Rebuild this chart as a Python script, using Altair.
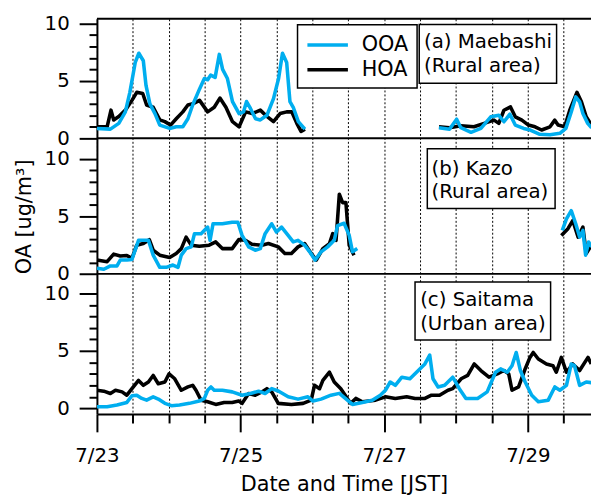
import altair as alt
import pandas as pd

FONT = "DejaVu Sans"

# ---- data: hours since 7/23 00:00 JST and OA concentration (ug/m3) ----
# (a) Maebashi
A_OOA_T1 = [0,4.5,7.3,9.5,11,12.8,14,15.5,16.4,17.7,19.4,21,24.3,26.5,28.7,30.4,32,34.3,35.9,37,38,39.5,40.9,42,43.6,45.3,47.5,49,50,51.3,53,54.6,56.8,59,60.7,62,63.4,64.5,65.6,67.3,69.5]
A_OOA_V1 = [0.86,0.8,1.3,2.3,4.0,6.6,7.4,6.75,4.6,3.0,2.15,1.15,0.86,1.0,1.0,1.7,2.9,4.3,5.2,5.1,5.5,5.3,7.3,6.0,5.2,3.2,2.15,2.3,3.2,2.6,1.7,1.6,2.0,3.45,5.2,7.4,6.6,3.2,2.7,1.45,0.8]
A_HOA_T1 = [0,3.4,4.7,5.6,7.3,9.5,11.7,13.3,15.3,16.6,18.8,21,22.7,24.6,26.5,28.7,30.4,32,34.3,37,39.2,41.1,43.1,45.3,47.5,49.7,51.9,54.6,56.8,59,61.2,63.4,65.1,66.8,68.2,69.5]
A_HOA_V1 = [1.0,1.0,2.45,1.6,1.9,2.45,3.3,4.0,3.9,2.9,2.7,1.6,1.45,1.15,1.7,2.3,2.9,3.0,3.3,2.3,2.7,3.5,2.7,1.45,1.0,2.3,2.15,2.45,1.9,1.45,2.15,2.3,2.3,1.3,0.6,0.8]
A_OOA_T2 = [114.3,117.8,120.2,121.6,125,128.3,131.6,134.3,136,138,139.8,142.6,144.8,148,151.4,154.7,156.7,158.5,160,161.3,162.4,164,165.3]
A_OOA_V2 = [0.92,0.78,1.66,0.92,0.52,0.86,1.87,2.0,1.44,2.1,1.15,0.86,0.72,0.35,0.3,0.43,0.86,2.3,3.6,3.17,2.15,1.3,0.92]
A_HOA_T2 = [114.3,117.8,121.6,126,129.4,132.7,134.3,136,138.2,139.8,142,144.2,146.4,148.6,151.4,153,154.1,156.3,158,160.4,161.9,163.5,165.3]
A_HOA_V2 = [1.0,0.92,1.1,1.0,1.3,1.58,1.3,2.44,2.73,1.87,1.58,1.15,1.0,0.72,1.0,1.58,1.15,1.0,2.44,4.0,3.17,1.87,1.15]

# (b) Kazo
B_OOA_T1 = [0,2.3,4.5,6.7,7.8,10,11.7,13.9,17.2,18.8,21,23.2,25.4,27.1,28.2,29.8,31.5,32.6,34.8,37,37.8,38.8,41.9,45.2,47.1,48.5,50.7,52.9,54.6,56.2,58.4,60,61.7,63.9,65.6,67.2,69.4,71.1,72.9,74.9,77.1,79.3,80.4,82.6,84.3,85.4,87]
B_OOA_V1 = [0.49,0.4,0.69,0.69,1.2,1.2,1.26,2.92,2.92,1.63,0.57,0.57,0.77,0.57,1.63,2.2,2.35,3.5,3.5,4.07,2.92,4.36,4.36,4.5,4.5,3.35,2.35,2.06,2.2,3.5,4.36,3.64,4.07,3.35,2.78,2.92,2.5,1.92,1.2,1.92,2.35,2.92,4.2,4.41,3.35,1.92,2.2]
B_HOA_T1 = [0,3.4,5.6,7.8,10,11.7,13.3,15.5,17.5,18.8,21,24.3,26.5,28.2,29.8,31.5,34.2,37.5,39.7,41.9,45.2,47.4,49.6,51.8,55.1,57.3,60.6,62.8,65,67.2,69.4,71.6,73.3,75.5,77.7,78.8,79.9,81,82.1,83.2,84.3,85.9]
B_HOA_V1 = [1.2,1.06,1.72,1.55,1.6,1.35,2.5,2.64,2.98,2.06,1.63,1.43,1.78,2.2,3.2,2.5,2.4,2.5,2.78,2.2,2.2,2.98,2.92,2.58,2.5,2.64,2.35,1.78,1.78,2.35,2.64,1.78,1.2,2.2,2.64,3.5,2.92,6.93,6.2,6.2,2.5,1.63]
B_OOA_T2 = [155.5,156.9,158.5,160,161.3,162.4,163.3,164.3,165.3]
B_OOA_V2 = [3.78,4.79,5.5,4.36,3.2,3.78,1.63,2.78,2.35]
B_HOA_T2 = [155.2,157.4,159,160.8,162.4,163.5,165.3]
B_HOA_V2 = [3.35,3.93,4.64,3.2,4.07,1.78,2.5]

# (c) Saitama
C_OOA_T = [0,3.4,6.7,10,11.7,13.3,15,16.6,18.8,20.5,22.7,24.9,27.6,30.9,34.2,35.9,37,38.1,39.2,41.9,45.2,48.5,51.3,54,56.2,58.4,60.6,63.9,67.2,70.5,72.2,74.9,78.2,81,85.4,88.7,92,94.7,96.4,98,99.7,101.9,104.6,106.8,109.6,111.2,112.3,114,116.2,118.9,121.1,123.3,127.2,130.4,133.2,134.9,137.1,138.7,140.1,141.5,143.1,145.3,147.5,150.8,153,154.7,156.9,158.5,159.6,161.3,163.5,165.2]
C_OOA_V = [0.14,0.14,0.29,0.51,1.09,1.14,0.86,0.71,1.0,0.8,0.43,0.23,0.29,0.43,0.63,0.86,1.57,1.86,1.57,1.57,1.43,1.14,1.29,1.49,1.29,1.71,1.51,1.0,0.8,1.0,0.63,0.8,1.14,1.3,0.34,0.51,0.71,1.14,1.57,2.29,2.0,2.71,2.57,3.14,3.86,4.63,2.57,1.86,2.0,2.71,1.71,0.86,0.86,1.43,3.14,3.43,3.14,3.71,4.86,3.29,2.29,1.14,0.57,0.71,1.86,1.57,2.0,3.86,3.71,2.0,2.29,2.23]
C_HOA_T = [0,2.3,4.5,6.2,8.4,10,11.7,13.9,15.5,17.2,18.8,20.5,22.7,24.1,26,28.2,30.4,32,33.1,34.8,37,39.7,42.5,45.2,47.4,48.5,50.7,52.9,55.1,56.8,58.4,60.6,65,68.9,71.6,72.7,74.4,75.5,77.7,79.3,81.5,84.8,86.5,88.7,93.1,96.4,99.7,103.5,106.3,109.6,111.8,114.5,117.3,118.9,121.7,123.9,126.1,128.3,131,133.8,136,137.6,138.7,140.9,143.1,144.7,145.8,147.5,150.2,152.4,153.5,155.2,156.9,159,161.3,164.1,165.2]
C_HOA_V = [1.57,1.49,1.29,1.57,1.43,1.14,1.71,2.43,2.0,2.29,2.86,2.14,2.29,3.0,2.57,1.57,1.86,2.0,1.57,0.71,0.57,0.34,0.51,0.51,0.63,0.43,1.29,1.14,1.43,1.71,1.43,0.43,0.34,0.43,0.71,2.0,1.71,2.43,3.14,2.29,1.71,0.43,0.86,0.57,0.71,1.0,0.86,1.0,0.86,0.86,1.14,1.14,1.57,1.71,2.57,2.86,3.86,3.29,2.71,3.0,3.29,3.0,1.57,1.86,3.43,4.43,4.86,4.29,3.86,3.71,3.14,4.43,3.14,3.86,3.29,4.43,3.86]

SERIES = ["OOA", "HOA"]
COLORS = ["#00AEEF", "#000000"]

# panel stacking: each panel keeps its own 0..10 scale, offset on a shared axis
PANEL_OFFSET = {"a": 24.0, "b": 12.2, "c": 0.5}
PANEL_BOUNDS = [12.2, 24.0, 34.4]
Y_MAX = 34.4
X_MAX = 165.1
X_TICKS = list(range(0, 157, 12))

# annotation boxes (hours, panel-stacked units)
BOX_X1 = [107.7, 110.4, 106.3]
BOX_X2 = [153.6, 153.1, 151.6]
BOX_Y1 = [28.8, 17.9, 6.45]
BOX_Y2 = [33.9, 23.1, 11.5]
LABEL_TEXT = ["(a) Maebashi", "(Rural area)", "(b) Kazo", "(Rural area)", "(c) Saitama", "(Urban area)"]
LABEL_X = [109.3, 109.3, 111.8, 111.8, 108.0, 108.0]
LABEL_Y = [32.4, 30.3, 21.3, 19.3, 9.9, 7.8]

rows = []
def add(panel, series, seg, ts, vs):
    for t, v in zip(ts, vs):
        rows.append({"panel": panel, "series": series, "seg": f"{panel}{series}{seg}", "t": t, "v": v})

add("a", "OOA", 1, A_OOA_T1, A_OOA_V1)
add("a", "HOA", 1, A_HOA_T1, A_HOA_V1)
add("a", "OOA", 2, A_OOA_T2, A_OOA_V2)
add("a", "HOA", 2, A_HOA_T2, A_HOA_V2)
add("b", "OOA", 1, B_OOA_T1, B_OOA_V1)
add("b", "HOA", 1, B_HOA_T1, B_HOA_V1)
add("b", "OOA", 2, B_OOA_T2, B_OOA_V2)
add("b", "HOA", 2, B_HOA_T2, B_HOA_V2)
add("c", "OOA", 1, C_OOA_T, C_OOA_V)
add("c", "HOA", 1, C_HOA_T, C_HOA_V)
df = pd.DataFrame(rows)

offA, offB, offC = PANEL_OFFSET["a"], PANEL_OFFSET["b"], PANEL_OFFSET["c"]
REL = (f"(datum.value < {offB - 0.2} ? datum.value - {offC} : "
       f"(datum.value < {offA - 0.2} ? datum.value - {offB} : datum.value - {offA}))")
IS_MAJOR = f"abs({REL} - 5 * round({REL} / 5)) < 0.01"
Y_TICKS = [round(off + k, 3) for off in (offC, offB, offA) for k in range(11)]

x_scale = alt.Scale(domain=[0, X_MAX], nice=False, zero=False)
y_scale = alt.Scale(domain=[0, Y_MAX], nice=False, zero=False)

x_axis = alt.Axis(
    values=X_TICKS, tickCount=60,
    labelExpr="datum.value % 48 == 0 ? '7/' + (23 + datum.value / 24) : ''",
    tickSize={"condition": {"test": "datum.value % 48 == 0", "value": 18}, "value": 9},
    grid=True, gridDash=[2, 2], gridColor="#000000", gridWidth=1,
    title="Date and Time [JST]", labelOverlap=False, labelFlush=False,
    labelPadding=14, titlePadding=8, labelFontSize=20, titleFontSize=21,
)
y_axis = alt.Axis(
    values=Y_TICKS, tickCount=80,
    labelExpr=f"{IS_MAJOR} ? '' + round({REL}) : ''",
    tickSize={"condition": {"test": IS_MAJOR, "value": 18}, "value": 8},
    grid=False, title="OA [ug/m³]", labelOverlap=False, labelFlush=False,
    labelPadding=10, titlePadding=10, labelFontSize=20, titleFontSize=21,
)

base = alt.Chart(df).transform_calculate(
    U=f"datum.v + (datum.panel == 'a' ? {offA} : (datum.panel == 'b' ? {offB} : {offC}))"
)
color = alt.Color("series:N", scale=alt.Scale(domain=SERIES, range=COLORS),
                  legend=alt.Legend(title=None))

def line_layer(series):
    return base.transform_filter(f"datum.series == '{series}'").mark_line(
        strokeWidth=3.6, clip=True, strokeJoin="round"
    ).encode(
        x=alt.X("t:Q", scale=x_scale, axis=x_axis),
        y=alt.Y("U:Q", scale=y_scale, axis=y_axis),
        color=color,
        detail="seg:N",
    )

sep = alt.Chart(pd.DataFrame({"U": PANEL_BOUNDS})).mark_rule(
    color="#000000", strokeWidth=2
).encode(y=alt.Y("U:Q", scale=y_scale))

boxes = alt.Chart(pd.DataFrame({"x1": BOX_X1, "x2": BOX_X2, "y1": BOX_Y1, "y2": BOX_Y2})).mark_rect(
    fill="white", stroke="#000000", strokeWidth=1.5
).encode(x=alt.X("x1:Q", scale=x_scale), x2="x2:Q", y=alt.Y("y1:Q", scale=y_scale), y2="y2:Q")

labels = alt.Chart(pd.DataFrame({"x": LABEL_X, "y": LABEL_Y, "text": LABEL_TEXT})).mark_text(
    align="left", baseline="middle", fontSize=20, font=FONT, color="#000000"
).encode(x=alt.X("x:Q", scale=x_scale), y=alt.Y("y:Q", scale=y_scale), text="text:N")

chart = alt.layer(
    line_layer("HOA"), line_layer("OOA"), sep, boxes, labels
).properties(
    width=500, height=400,
    autosize=alt.AutoSizeParams(type="none"),
    padding={"left": 90, "top": 8, "right": 0, "bottom": 80},
).configure_view(stroke=None).configure_axis(
    labelFont=FONT, titleFont=FONT,
    labelColor="#000000", titleColor="#000000", titleFontWeight="normal",
    domainColor="#000000", tickColor="#000000", domainWidth=2, tickWidth=2,
).configure_legend(
    orient="none", legendX=203, legendY=6,
    strokeColor="#000000", fillColor="white", strokeWidth=1.5, padding=8,
    symbolType="M-2,0H2", symbolStrokeWidth=3.6, symbolSize=420, symbolOffset=10,
    labelFont=FONT, labelFontSize=21, labelColor="#000000", labelOffset=22,
    rowPadding=2,
)

chart.save("out.html", embed_options={"renderer": "svg", "actions": False})
